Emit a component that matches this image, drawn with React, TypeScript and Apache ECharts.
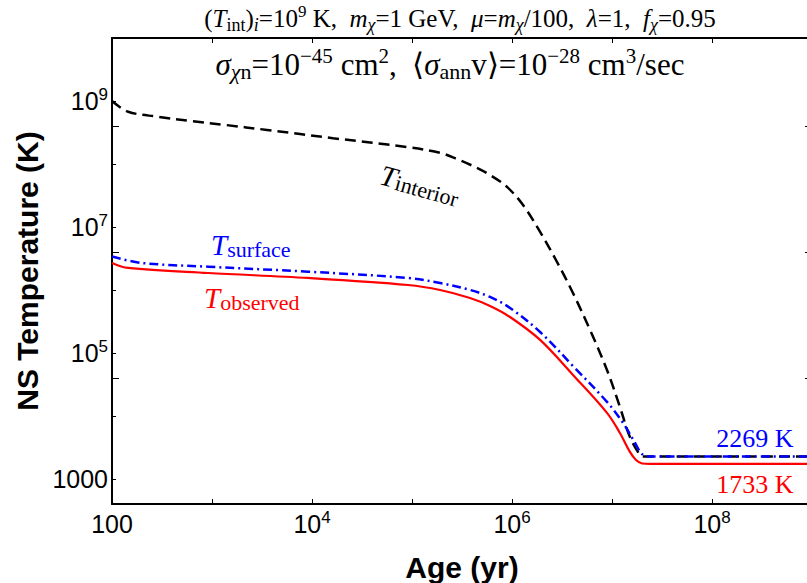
import React, { useEffect, useRef } from 'react';
import * as echarts from 'echarts';

// Axis ranges
const X_MIN = 100;
const X_MAX = 1e9;
const Y_MIN = 400;
const Y_MAX = 1e10;

// Tick labels (exponents that carry a label)
const xLabelExponents = [2, 4, 6, 8];
const yLabelExponents = [3, 5, 7, 9];

// T_interior (black dashed)
const interiorAge = [1e2, 1.45e2, 2.88e2, 6.17e2, 1.35e3, 3.55e3, 1.62e4, 8.91e4, 1.91e5, 2.82e5, 4.07e5, 6.03e5, 8.91e5, 1.29e6, 1.91e6, 2.82e6, 4.07e6, 6.03e6, 8.91e6, 1.2e7, 1.51e7, 1.91e7, 2.1e7, 1e9];
const interiorT = [1.0e9, 6.76e8, 5.62e8, 4.79e8, 4.17e8, 3.47e8, 2.57e8, 1.86e8, 1.5e8, 1.2e8, 9.29e7, 6.68e7, 4.32e7, 2.23e7, 8.34e6, 2.78e6, 8.95e5, 2.32e5, 5.37e4, 1.39e4, 4.65e3, 2.4e3, 2269, 2269];

// T_surface (blue dash-dot)
const surfaceAge = [1e2, 1.95e2, 9.12e2, 9.12e3, 9.12e4, 1.91e5, 3.8e5, 6.03e5, 9.55e5, 1.91e6, 4.07e6, 8.91e6, 1.29e7, 1.7e7, 1.95e7, 2.24e7, 1e9];
const surfaceT = [3.39e6, 2.69e6, 2.34e6, 1.95e6, 1.55e6, 1.29e6, 1.0e6, 7.74e5, 5.18e5, 2.15e5, 6.22e4, 1.67e4, 7.74e3, 3.72e3, 2.59e3, 2269, 2269];

// T_observed (red solid)
const observedAge = [1e2, 1.45e2, 9.12e2, 9.12e3, 9.12e4, 1.91e5, 3.8e5, 6.03e5, 9.55e5, 1.91e6, 4.07e6, 8.91e6, 1.2e7, 1.51e7, 1.74e7, 2.0e7, 2.4e7, 1e9];
const observedT = [2.69e6, 2.24e6, 1.86e6, 1.55e6, 1.2e6, 1.0e6, 7.46e5, 5.57e5, 3.72e5, 1.61e5, 4.48e4, 1.12e4, 5.37e3, 2.69e3, 2.0e3, 1.76e3, 1733, 1733];

const SANS = 'Liberation Sans, Arial, sans-serif';
const SERIF = 'Liberation Serif, Times New Roman, serif';

const labelFormatter = (allowed: number[]) => (v: number) => {
  const lg = Math.log10(v);
  const e = Math.round(lg);
  if (Math.abs(lg - e) > 1e-6) return '';
  if (allowed.indexOf(e) < 0) return '';
  if (e === 2) return '{b|100}';
  if (e === 3) return '{b|1000}';
  return `{b|10}{sup|${e}}`;
};

const labelRich = {
  b: { fontFamily: SANS, fontSize: 25, lineHeight: 30, color: '#000' },
  sup: { fontFamily: SANS, fontSize: 17, lineHeight: 17, verticalAlign: 'top', color: '#000' },
};

const makeTitleRich = (fs: number) => ({
  r: { fontFamily: SERIF, fontSize: fs, lineHeight: fs + 6, fill: '#000' },
  i: { fontFamily: SERIF, fontStyle: 'italic', fontSize: fs, lineHeight: fs + 6, fill: '#000' },
  sup: { fontFamily: SERIF, fontSize: Math.round(fs * 0.68), lineHeight: Math.round(fs * 0.68), verticalAlign: 'top', fill: '#000' },
  subr: { fontFamily: SERIF, fontSize: Math.round(fs * 0.7), lineHeight: Math.round(fs * 0.62), verticalAlign: 'bottom', fill: '#000' },
  subi: { fontFamily: SERIF, fontStyle: 'italic', fontSize: Math.round(fs * 0.7), lineHeight: Math.round(fs * 0.62), verticalAlign: 'bottom', fill: '#000' },
});

const tRich = (color: string) => ({
  t: { fontFamily: SERIF, fontStyle: 'italic', fontSize: 29, lineHeight: 30, fill: color },
  s: { fontFamily: SERIF, fontSize: 22, lineHeight: 14, verticalAlign: 'bottom', fill: color },
});

export default function App() {
  const ref = useRef<HTMLDivElement>(null);

  useEffect(() => {
    const chart = echarts.init(ref.current!, null, { renderer: 'svg' });
    const lineAxis = { show: true, lineStyle: { color: '#000', width: 2 } };
    const auxMin = Math.log10(Y_MIN) - 1;
    const auxMax = Math.log10(Y_MAX) - 1;
    const smooth = 0.35;

    const option: any = {
      animation: false,
      backgroundColor: '#fff',
      grid: { left: 112, top: 38, width: 700, height: 466, containLabel: false, outerBoundsMode: 'none' },
      xAxis: [
        {
          type: 'log', logBase: 10, position: 'bottom', min: X_MIN, max: X_MAX, splitNumber: 7,
          axisLine: lineAxis,
          axisTick: { show: true, inside: true, length: 5, lineStyle: { color: '#000', width: 1 } },
          axisLabel: { show: true, margin: 5, formatter: labelFormatter(xLabelExponents), rich: labelRich },
          splitLine: { show: false }, minorTick: { show: false },
        },
        {
          type: 'log', logBase: 10, position: 'top', min: X_MIN, max: X_MAX, splitNumber: 7,
          axisLine: lineAxis,
          axisTick: { show: true, inside: true, length: 5, lineStyle: { color: '#000', width: 1 } },
          axisLabel: { show: false }, splitLine: { show: false },
        },
      ],
      yAxis: [
        {
          type: 'log', logBase: 10, position: 'left', min: Y_MIN, max: Y_MAX, splitNumber: 8,
          axisLine: lineAxis,
          axisTick: { show: true, inside: true, length: 4, lineStyle: { color: '#000', width: 1 } },
          axisLabel: { show: true, margin: 4, formatter: labelFormatter(yLabelExponents), rich: labelRich },
          splitLine: { show: false },
        },
        {
          type: 'log', logBase: 10, position: 'right', min: Y_MIN, max: Y_MAX, splitNumber: 8,
          axisLine: lineAxis,
          axisTick: { show: true, inside: true, length: 4, lineStyle: { color: '#000', width: 1 } },
          axisLabel: { show: false }, splitLine: { show: false },
        },
        {
          type: 'value', position: 'left', min: auxMin, max: auxMax, interval: 2,
          axisLine: { show: false },
          axisTick: { show: true, inside: true, length: 7, lineStyle: { color: '#000', width: 1 } },
          axisLabel: { show: false }, splitLine: { show: false },
        },
        {
          type: 'value', position: 'right', min: auxMin, max: auxMax, interval: 2,
          axisLine: { show: false },
          axisTick: { show: true, inside: true, length: 7, lineStyle: { color: '#000', width: 1 } },
          axisLabel: { show: false }, splitLine: { show: false },
        },
      ],
      series: [
        {
          type: 'line', name: 'interior', xAxisIndex: 0, yAxisIndex: 0,
          data: interiorAge.map((a, i) => [a, interiorT[i]]),
          symbol: 'none', showSymbol: false, smooth,
          lineStyle: { color: '#000', width: 2.5, type: [11, 6] }, z: 3,
        },
        {
          type: 'line', name: 'surface', xAxisIndex: 0, yAxisIndex: 0,
          data: surfaceAge.map((a, i) => [a, surfaceT[i]]),
          symbol: 'none', showSymbol: false, smooth,
          lineStyle: { color: '#0000ff', width: 2.5, type: [9, 4, 2, 4] }, z: 4,
        },
        {
          type: 'line', name: 'observed', xAxisIndex: 0, yAxisIndex: 0,
          data: observedAge.map((a, i) => [a, observedT[i]]),
          symbol: 'none', showSymbol: false, smooth,
          lineStyle: { color: '#ff0000', width: 2.2, type: 'solid' }, z: 5,
        },
      ],
      graphic: [
        {
          type: 'text', x: 460, y: 18, z: 10,
          style: {
            text: '{r|(}{i|T}{subr|int}{r|)}{subi|i}{r|=10}{sup|9}{r| K,  }{i|m}{subi|χ}{r|=1 GeV,  }{i|μ}{r|=}{i|m}{subi|χ}{r|/100,  }{i|λ}{r|=1,  }{i|f}{subi|χ}{r|=0.95}',
            rich: makeTitleRich(25), align: 'center', verticalAlign: 'middle',
          },
        },
        {
          type: 'text', x: 450, y: 64, z: 10,
          style: {
            text: '{i|σ}{subi|χ}{subr|n}{r|=10}{sup|−45}{r| cm}{sup|2}{r|,  ⟨}{i|σ}{subr|ann}{r|v⟩=10}{sup|−28}{r| cm}{sup|3}{r|/sec}',
            rich: makeTitleRich(31), align: 'center', verticalAlign: 'middle',
          },
        },
        {
          type: 'text', x: 420, y: 185, rotation: -0.27, z: 10,
          style: { text: '{t|T}{s|interior}', rich: tRich('#000'), align: 'center', verticalAlign: 'middle' },
        },
        {
          type: 'text', x: 211, y: 245, z: 10,
          style: { text: '{t|T}{s|surface}', rich: tRich('#0000ff'), align: 'left', verticalAlign: 'middle' },
        },
        {
          type: 'text', x: 204, y: 298, z: 10,
          style: { text: '{t|T}{s|observed}', rich: tRich('#ff0000'), align: 'left', verticalAlign: 'middle' },
        },
        {
          type: 'text', x: 755, y: 438, z: 10,
          style: { text: `${surfaceT[surfaceT.length - 1]} K`, fontFamily: SERIF, fontSize: 26, fill: '#0000ff', align: 'center', verticalAlign: 'middle' },
        },
        {
          type: 'text', x: 755, y: 484, z: 10,
          style: { text: `${observedT[observedT.length - 1]} K`, fontFamily: SERIF, fontSize: 26, fill: '#ff0000', align: 'center', verticalAlign: 'middle' },
        },
        {
          type: 'text', x: 462, y: 567, z: 10,
          style: { text: 'Age (yr)', fontFamily: SANS, fontWeight: 'bold', fontSize: 30, fill: '#000', align: 'center', verticalAlign: 'middle' },
        },
        {
          type: 'text', x: 27, y: 271, rotation: Math.PI / 2, z: 10,
          style: { text: 'NS Temperature (K)', fontFamily: SANS, fontWeight: 'bold', fontSize: 30, fill: '#000', align: 'center', verticalAlign: 'middle' },
        },
      ],
    };
    chart.setOption(option);
    return () => chart.dispose();
  }, []);

  return (
    <div style={{ position: 'fixed', left: 0, top: 0, width: 807, height: 583, overflow: 'hidden', background: '#fff' }}>
      <div ref={ref} style={{ width: 830, height: 583 }} />
    </div>
  );
}
